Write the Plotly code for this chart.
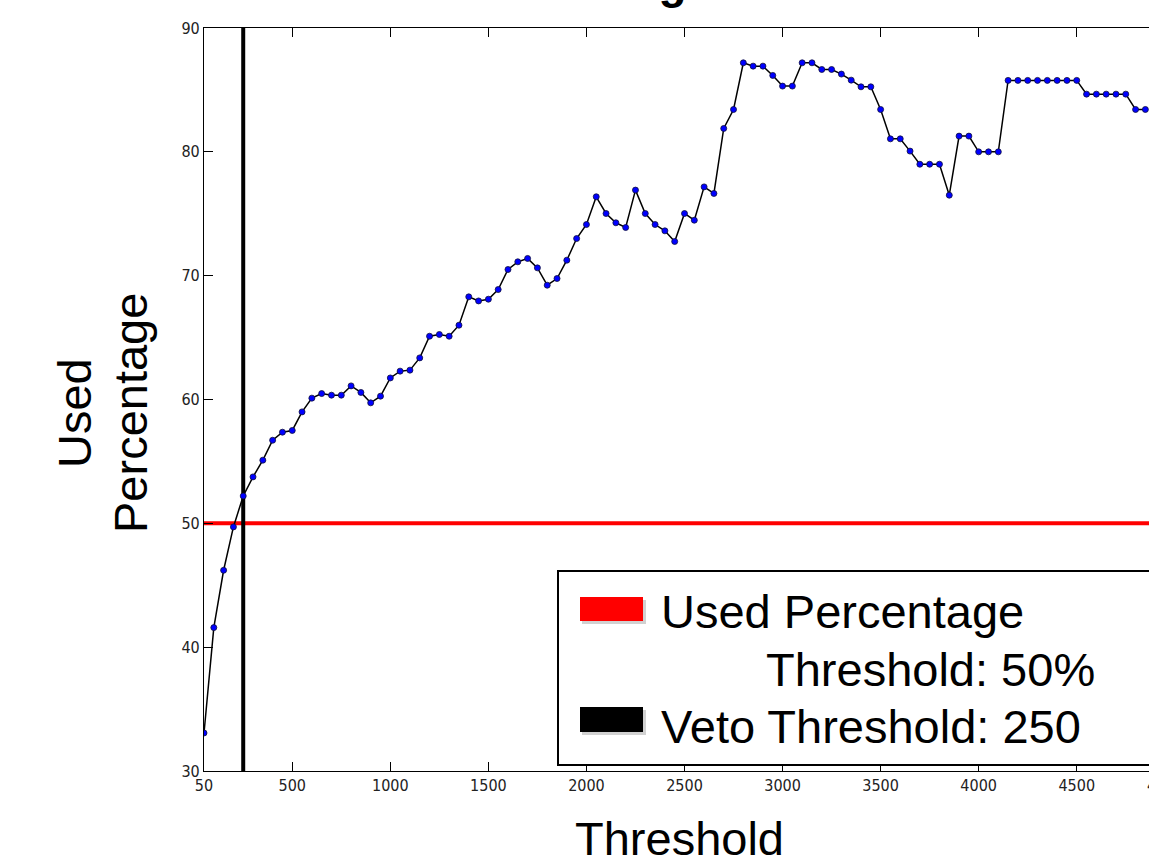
import plotly.graph_objects as go

# ---------------- data ----------------
thresholds = [50, 100, 150, 200, 250, 300, 350, 400, 450, 500,
              550, 600, 650, 700, 750, 800, 850, 900, 950, 1000,
              1050, 1100, 1150, 1200, 1250, 1300, 1350, 1400, 1450, 1500,
              1550, 1600, 1650, 1700, 1750, 1800, 1850, 1900, 1950, 2000,
              2050, 2100, 2150, 2200, 2250, 2300, 2350, 2400, 2450, 2500,
              2550, 2600, 2650, 2700, 2750, 2800, 2850, 2900, 2950, 3000,
              3050, 3100, 3150, 3200, 3250, 3300, 3350, 3400, 3450, 3500,
              3550, 3600, 3650, 3700, 3750, 3800, 3850, 3900, 3950, 4000,
              4050, 4100, 4150, 4200, 4250, 4300, 4350, 4400, 4450, 4500,
              4550, 4600, 4650, 4700, 4750, 4800, 4850]
used_percentage = [33.07, 41.58, 46.21, 49.71, 52.21, 53.75, 55.10, 56.71, 57.36, 57.50,
                   59.00, 60.11, 60.48, 60.35, 60.35, 61.10, 60.57, 59.73, 60.27, 61.74,
                   62.29, 62.37, 63.36, 65.11, 65.25, 65.11, 66.00, 68.29, 67.96, 68.10,
                   68.88, 70.50, 71.12, 71.39, 70.63, 69.23, 69.77, 71.25, 73.00, 74.13,
                   76.37, 75.02, 74.27, 73.89, 76.91, 75.02, 74.13, 73.62, 72.76, 75.02,
                   74.48, 77.17, 76.64, 81.89, 83.42, 87.19, 86.92, 86.92, 86.17, 85.31,
                   85.31, 87.19, 87.19, 86.65, 86.65, 86.28, 85.79, 85.25, 85.25, 83.42,
                   81.05, 81.05, 80.06, 79.00, 79.00, 79.00, 76.50, 81.27, 81.27, 80.00,
                   80.00, 80.00, 85.77, 85.77, 85.77, 85.77, 85.77, 85.77, 85.77, 85.77,
                   84.66, 84.66, 84.66, 84.66, 84.66, 83.42, 83.42]
veto_threshold = 250
percentage_threshold = 50
x_tick_values = [50, 500, 1000, 1500, 2000, 2500, 3000, 3500, 4000, 4500]
x_last_tick = 4950
y_tick_values = [30, 40, 50, 60, 70, 80, 90]
legend_labels = ["Used Percentage", "Threshold: 50%", "Veto Threshold: 250"]
title_text = "Used Percentage"
x_title = "Threshold"
y_title_lines = ["Used", "Percentage"]

# ---------------- layout geometry ----------------
W, H = 1149, 858
L, T, B, R = 204, 28, 87, 0
PW = W - L - R
PH = H - T - B
x_last_px = 1165  # pixel where the (cropped) last tick sits
x_max = x_tick_values[0] + (W - L) / (x_last_px - L) * (x_last_tick - x_tick_values[0])


def px(p):
    return (p - L) / PW


def py(p):
    return (H - B - p) / PH


SANS = "Liberation Sans, Arial, sans-serif"
TICKFONT = dict(family="DejaVu Sans Condensed, DejaVu Sans, sans-serif", size=16, color="#222")
BIG = 47

fig = go.Figure()
fig.add_trace(go.Scatter(
    x=thresholds, y=used_percentage, mode="lines+markers",
    line=dict(color="black", width=1.5),
    marker=dict(color="#0000ff", size=6, line=dict(color="#10103a", width=0.8)),
    showlegend=False,
))

shapes = [
    # red horizontal threshold
    dict(type="line", xref="paper", yref="y", x0=0, x1=1.2,
         y0=percentage_threshold, y1=percentage_threshold,
         line=dict(color="#ff0000", width=4), layer="below"),
    # black vertical veto threshold
    dict(type="line", xref="x", yref="paper", x0=veto_threshold, x1=veto_threshold,
         y0=0, y1=1, line=dict(color="black", width=4), layer="below"),
    # legend box
    dict(type="rect", xref="paper", yref="paper", x0=px(558), x1=px(1210),
         y0=py(765), y1=py(571), line=dict(color="black", width=2),
         fillcolor="white", layer="above"),
    # patch shadows
    dict(type="rect", xref="paper", yref="paper", x0=px(582), x1=px(646),
         y0=py(624), y1=py(600), line=dict(width=0), fillcolor="rgba(0,0,0,0.18)", layer="above"),
    dict(type="rect", xref="paper", yref="paper", x0=px(582), x1=px(646),
         y0=py(735), y1=py(710), line=dict(width=0), fillcolor="rgba(0,0,0,0.18)", layer="above"),
    # legend patches
    dict(type="rect", xref="paper", yref="paper", x0=px(580), x1=px(643),
         y0=py(621), y1=py(597), line=dict(width=0), fillcolor="#ff0000", layer="above"),
    dict(type="rect", xref="paper", yref="paper", x0=px(580), x1=px(643),
         y0=py(732), y1=py(707), line=dict(width=0), fillcolor="#000000", layer="above"),
]


def text_at(text, x_left, baseline, size=BIG, bold=False, xanchor="left"):
    center = baseline - 0.3465 * size
    return dict(text=("<b>%s</b>" % text) if bold else text, xref="paper", yref="paper",
                x=px(x_left), y=py(center), xanchor=xanchor, yanchor="middle",
                showarrow=False, font=dict(family=SANS, size=size, color="black"))


annotations = [
    text_at(legend_labels[0], 659, 628),
    text_at(legend_labels[1], 764, 686),
    text_at(legend_labels[2], 659, 743),
    text_at(title_text, 337, -2, size=46, bold=True),
    text_at(x_title, 679, 855, xanchor="center"),
    dict(text=y_title_lines[0], xref="paper", yref="paper", x=px(74), y=py(413),
         xanchor="center", yanchor="middle", textangle=-90, showarrow=False,
         font=dict(family=SANS, size=BIG, color="black")),
    dict(text=y_title_lines[1], xref="paper", yref="paper", x=px(130), y=py(413),
         xanchor="center", yanchor="middle", textangle=-90, showarrow=False,
         font=dict(family=SANS, size=BIG, color="black")),
    # cropped last x tick label
    dict(text=str(x_last_tick), xref="paper", yref="paper", x=px(x_last_px), y=py(785),
         xanchor="center", yanchor="middle", showarrow=False, font=TICKFONT),
]

fig.update_layout(
    width=W, height=H,
    margin=dict(l=L, r=R, t=T, b=B, pad=0),
    paper_bgcolor="white", plot_bgcolor="white",
    shapes=shapes, annotations=annotations,
    showlegend=False,
    xaxis=dict(range=[x_tick_values[0], x_max], tickvals=x_tick_values,
               ticktext=[str(v) for v in x_tick_values],
               showgrid=False, zeroline=False, showline=True, linecolor="black",
               linewidth=1.2, mirror="ticks", ticks="inside", ticklen=9,
               tickwidth=1, tickcolor="black", tickfont=TICKFONT),
    yaxis=dict(range=[30, 90], tickvals=y_tick_values,
               showgrid=False, zeroline=False, showline=True, linecolor="black",
               linewidth=1.2, mirror=False, ticks="inside", ticklen=9,
               tickwidth=1, tickcolor="black", tickfont=TICKFONT),
)

fig.write_html("out.html")
